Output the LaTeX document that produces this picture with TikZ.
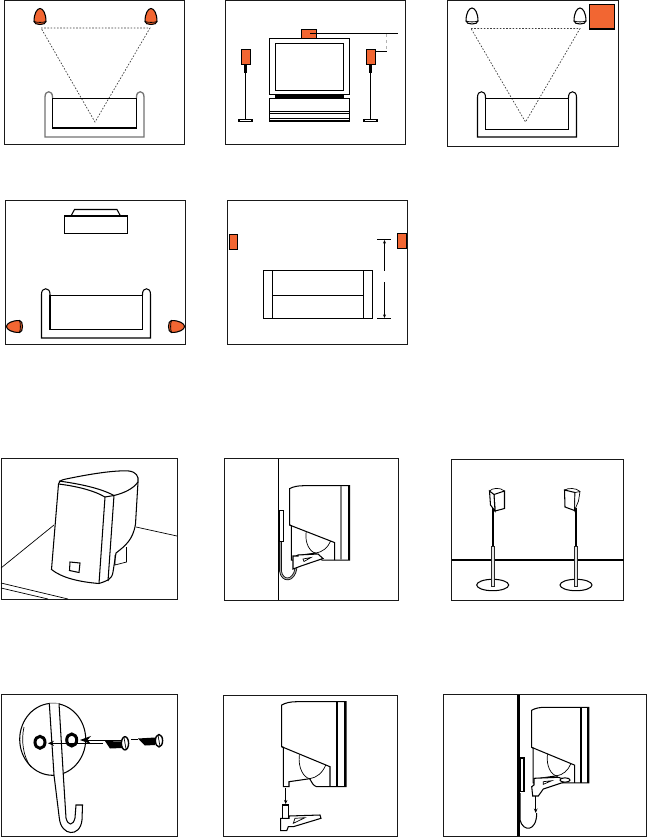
\documentclass[tikz,border=0pt]{standalone}
\usetikzlibrary{arrows.meta}
\definecolor{spkorange}{HTML}{F26632}
\tikzset{
  x=1pt,y=-1pt,
  line join=round,
  frame/.style={draw=black!90,line width=1pt},
  ln/.style={draw=black,line width=1.05pt},
  thin ln/.style={draw=black,line width=.7pt},
  spk/.style={draw=black,line width=1.05pt,fill=spkorange},
  sight/.style={draw=black!75,line width=.7pt,dash pattern=on 1.6pt off 1.6pt},
  tip/.style={-{Stealth[length=3.6pt,width=3pt]},line width=.8pt},
  dome/.pic={
    \path[pic actions,line width=1.05pt] (-6,5) .. controls (-6,-3) and (-3,-8) .. (0,-8)
       .. controls (3,-8) and (6,-3) .. (6,5) .. controls (6,9) and (-6,9) .. (-6,5) -- cycle;
    \draw[line width=.8pt] (-6,5) .. controls (-3,6.2) and (3,6.2) .. (6,5);
  },
  wallspeaker/.pic={
    \draw[ln] (0,3.3) .. controls (4,1) and (9,0) .. (15,0) -- (64.3,0) -- (64.3,85) -- (35,85)
       .. controls (31,84) and (30,80) .. (28,77) -- (7.3,80) -- (7.3,85) -- (1.7,85) -- (1.7,45.7) -- (0,45) -- cycle;
    \draw[ln] (0,45) -- (48.3,65) -- (48.3,85);
    \draw[thin ln] (17.7,53) .. controls (16,66) and (22,76) .. (28,77) .. controls (35,76) and (41,71) .. (44,63.3);
    \draw[draw=black,line width=2.6pt] (55.3,0) -- (55.3,85);
    \draw[draw=black,line width=1.8pt] (63.6,0) -- (63.6,85);
  }
}
\begin{document}
\begin{tikzpicture}
\useasboundingbox (0,0) rectangle (647,838);
\fill[white] (0,0) rectangle (647,838);

% ---------- panel 1
\draw[frame] (4.5,.5) rectangle (184.5,144);
\pic[spk] at (40,16.5) {dome};
\pic[spk] at (151,16.5) {dome};
\draw[sight] (41,28) -- (150,28) -- (95,122) -- cycle;
\draw[draw=black!55,line width=1.3pt] (52.5,98) -- (52.5,97) .. controls (52.5,90) and (45,90) .. (45,97) -- (45,137) -- (144,137) -- (144,97) .. controls (144,90) and (136.5,90) .. (136.5,97) -- (136.5,98);
\draw[ln] (52.5,98.5) rectangle (136.5,128);

% ---------- panel 2
\draw[frame] (225.5,.5) rectangle (405.5,144);
\draw[ln] (269.5,38.5) rectangle (349.5,94.5);
\draw[ln] (275.5,43.5) rectangle (343.5,90.5);
\fill[black] (275,94.5) rectangle (344,98.5);
\draw[ln] (269.5,98.5) rectangle (349.5,121);
\draw[ln] (269.5,111.5) -- (349.5,111.5) (269.5,113.5) -- (349.5,113.5) (269.5,118.5) -- (349.5,118.5);
\draw[spk] (301.5,29.5) rectangle (316.5,38.5);
\draw[ln] (310,33.5) -- (398,33.5);
\draw[ln] (375,51.5) -- (387,51.5);
\draw[draw=black!30,line width=.8pt,dashed] (386,34) -- (386,51);
\foreach \sx in {245.5,370.5}{
  \draw[spk] (\sx-4,49.5) rectangle (\sx+5,64.5);
  \fill[black] (\sx-1.5,64.5) rectangle (\sx+1.5,72.5);
  \draw[ln] (\sx,72) -- (\sx,119.5);
  \draw[ln] (\sx-6.5,119.5) rectangle (\sx+6.5,121.5);
}

% ---------- panel 3
\draw[frame] (447.5,.5) rectangle (618.5,146);
\pic[ln,fill=white] at (472,16) {dome};
\pic[ln,fill=white] at (580,16) {dome};
\draw[spk] (589.5,4.5) rectangle (614.5,29);
\draw[sight] (471,28.5) -- (580,28.5) -- (525.5,122) -- cycle;
\draw[ln] (485.5,98) -- (485.5,97) .. controls (485.5,90) and (477.5,90) .. (477.5,97) -- (477.5,137) -- (576.5,137) -- (576.5,97) .. controls (576.5,90) and (568.5,90) .. (568.5,97) -- (568.5,98);
\draw[ln] (485.5,98.5) rectangle (568.5,129.5);

% ---------- panel 4
\draw[frame] (5.5,200.5) rectangle (185.5,344);
\draw[ln] (64.5,216) rectangle (127.5,233.5);
\draw[ln] (71,216) -- (74.5,209.5) -- (117,209.5) -- (120.5,216);
\draw[ln] (50,295) -- (50,294) .. controls (50,287) and (41.5,287) .. (41.5,294) -- (41.5,338) -- (150.5,338) -- (150.5,294) .. controls (150.5,287) and (142.5,287) .. (142.5,294) -- (142.5,295);
\draw[ln] (50,295.5) rectangle (142.5,329.5);
\pic[spk,rotate=90] at (14.5,326.5) {dome};
\pic[spk,rotate=-90] at (176.5,326.5) {dome};

% ---------- panel 5
\draw[frame] (227.5,200.5) rectangle (407.5,344);
\draw[spk] (229.5,234.5) rectangle (237.5,249.5);
\draw[spk] (397.5,233.5) rectangle (406.5,248.5);
\draw[ln] (263.5,270.5) rectangle (372.5,318.5);
\draw[ln] (272.5,270.5) -- (272.5,318.5) (363.5,270.5) -- (363.5,318.5) (272.5,295.5) -- (363.5,295.5);
\draw[ln] (377,239.5) -- (391,239.5) (377,318.5) -- (391,318.5);
\draw[ln,tip] (384.5,270.5) -- (384.5,240);
\draw[ln,tip] (384.5,282) -- (384.5,318);

% ---------- panel 6
\draw[frame] (1,458.5) rectangle (177.5,599);
\draw[thin ln] (1,568) -- (54,525);
\draw[thin ln] (136,527) -- (177,536);
\draw[thin ln] (1,583) -- (68,599);
\draw[thin ln] (1,588) -- (48,599);
\draw[ln,fill=white] (58.5,484) .. controls (60,480) and (62,480) .. (66,479)
   .. controls (90,474) and (115,470) .. (129,471) .. controls (136,472) and (139,476) .. (138,482)
   -- (135.5,524) .. controls (133,540) and (125,546) .. (116,553) -- (113,572)
   .. controls (112,580) and (106,581) .. (99,583.5) .. controls (80,582) and (62,578) .. (51.5,569.5) -- cycle;
\draw[ln] (58.5,484) .. controls (75,486) and (93,490) .. (105,497) -- (99,583.5);
\draw[ln] (59,481) .. controls (80,484) and (100,488) .. (114,495.5) .. controls (124,493) and (133,489) .. (138,482);
\draw[ln] (105,497) -- (114,495.5) -- (108,581);
\draw[thin ln] (115,555) -- (115,565) -- (126.5,562) -- (126.5,547);
\draw[ln] (70,562) -- (80,563) -- (79,572.5) -- (69.5,570.5) -- cycle;

% ---------- panel 7
\draw[frame] (224.5,458.5) rectangle (398.5,600);
\draw[ln] (278.5,458.5) -- (278.5,600);
\draw[ln,fill=white] (279,510.5) rectangle (283.5,541.5);
\draw[line width=2.6pt,draw=black] (280.5,542) -- (280.5,571) .. controls (282,582) and (294,582) .. (296,568);
\draw[line width=1.1pt,draw=black!35] (280.5,542) -- (280.5,571) .. controls (282,582) and (294,582) .. (296,568);
\pic at (289.7,485.7) [xscale=.93,yscale=.875] {wallspeaker};
\draw[draw=black!50,line width=1.4pt] (341.1,486) -- (341.1,560);
\draw[ln,fill=white] (293,556) -- (298,556) -- (298,555) -- (318,554) -- (323,558.5) -- (301,566) -- (293,569) -- cycle;
\draw[thin ln] (303,559) -- (311,557.5) -- (304,561.5) -- cycle;

% ---------- panel 8
\draw[frame] (451.5,459.5) rectangle (623.5,600);
\draw[draw=black,line width=1.8pt] (452,560) -- (623.5,560);
\draw[ln] (492.7,585) ellipse [x radius=16pt,y radius=5.7pt];
\draw[ln] (576,585) ellipse [x radius=16pt,y radius=5.7pt];
\foreach \px in {492.7,576}{
  \draw[draw=black,line width=1.6pt] (\px,508) -- (\px,546);
  \draw[draw=black!85,line width=.9pt,fill=black!10] (\px-1.7,546) rectangle (\px+1.7,586);
}
\draw[ln,fill=white] (494,494.5) -- (504.5,491) -- (504.5,508.5) -- (495,511) -- cycle;
\draw[ln,fill=white] (489.5,491) -- (494,494.5) -- (495,511) -- (490.5,505) -- cycle;
\draw[thin ln] (489.5,491) .. controls (492,488) and (500,487) .. (504.5,491);
\draw[ln,fill=white] (564.5,490) -- (575,492.5) -- (574.5,510.5) -- (565,507) -- cycle;
\draw[thin ln,fill=white] (575,492.5) -- (580,491.5) -- (578.5,501) -- (574.5,510.5) -- cycle;
\draw[thin ln] (564.5,490) .. controls (568,488) and (576,487.5) .. (580,491.5);

% ---------- panel 9
\draw[frame] (1,694.5) rectangle (177,836);
\draw[ln] (52.7,739.3) ellipse [x radius=33pt,y radius=36pt];
\draw[thin ln] (24,727) .. controls (21,740) and (23,757) .. (31,767);
\draw[ln,fill=white] (49.3,703.3) -- (54,775) -- (59.3,818) .. controls (61,836) and (80,838) .. (82,820) -- (82.5,805) -- (76,805) -- (75,818) .. controls (73,826) and (68,826) .. (66,818) -- (63.3,775) -- (59,703.3);
\draw[draw=black,line width=3pt] (40,742.3) ellipse [x radius=5pt,y radius=6pt];
\draw[draw=black,line width=3pt] (71.7,740) ellipse [x radius=5pt,y radius=6pt];
\draw[line width=.9pt,-{Stealth[length=11pt,width=8pt]}] (122,740) -- (80,740);
\draw[line width=.9pt,-{Stealth[length=6pt,width=5pt]}] (103,743.3) -- (48,743.3);
\draw[line width=.9pt] (131,739.3) -- (138,739.3);
\fill[black] (105,741) -- (122,741.5) -- (122,748) -- (110,748.5) -- cycle;
\draw[draw=black,line width=1.4pt,fill=white] (125,743.3) ellipse [x radius=3.6pt,y radius=6.6pt];
\draw[thin ln] (124,737.5) -- (126,749);
\fill[black] (138,738.5) -- (155,737.5) -- (155,745) -- (145,745.5) -- cycle;
\draw[draw=black,line width=1.4pt,fill=white] (159,740.7) ellipse [x radius=3.6pt,y radius=6.2pt];
\draw[thin ln] (158,735) -- (160,746.5);

% ---------- panel 10
\draw[frame] (223.5,695) rectangle (397.5,836);
\pic at (281.7,701.7) {wallspeaker};
\draw[draw=black,line width=.9pt,-{Stealth[length=4pt,width=3.4pt]}] (285.7,788) -- (285.7,804);
\draw[ln] (282.3,805) rectangle (288.3,818.3);
\draw[ln,fill=white] (280.7,818.3) -- (289,818.3) -- (289,816) -- (320,815) -- (321,818.3) -- (293.3,826.7) -- (288.3,826.7) -- (286.7,830.7) -- (280.7,830.7) -- cycle;
\draw[thin ln] (293.3,823.3) -- (305,817.7) -- (295,818.3) -- cycle;

% ---------- panel 11
\draw[frame] (443.5,694.5) rectangle (646,836);
\draw[draw=black,line width=2.6pt] (518.3,694.5) -- (518.3,836);
\draw[ln,fill=white] (520,758) rectangle (524,791.7);
\pic at (531.7,707.3) [scale=.89] {wallspeaker};
\draw[ln,fill=white] (534,778.3) -- (558.3,777.3) -- (568.3,780.7) -- (543.3,789) -- (538.3,796) -- (532.7,796) -- (531.7,786.7) -- (534,785) -- cycle;
\draw[thin ln] (543.3,784.3) -- (551.7,780.7) -- (543.3,781.7) -- cycle;
\draw[ln,fill=white] (565,780) ellipse [x radius=5pt,y radius=2.2pt];
\draw[ln] (520,793) -- (520,820) .. controls (523,832) and (536.7,832) .. (536.7,813);
\draw[draw=black,line width=.9pt,-{Stealth[length=4.5pt,width=3.6pt]}] (535.7,796) -- (535.7,813);
\end{tikzpicture}
\end{document}
